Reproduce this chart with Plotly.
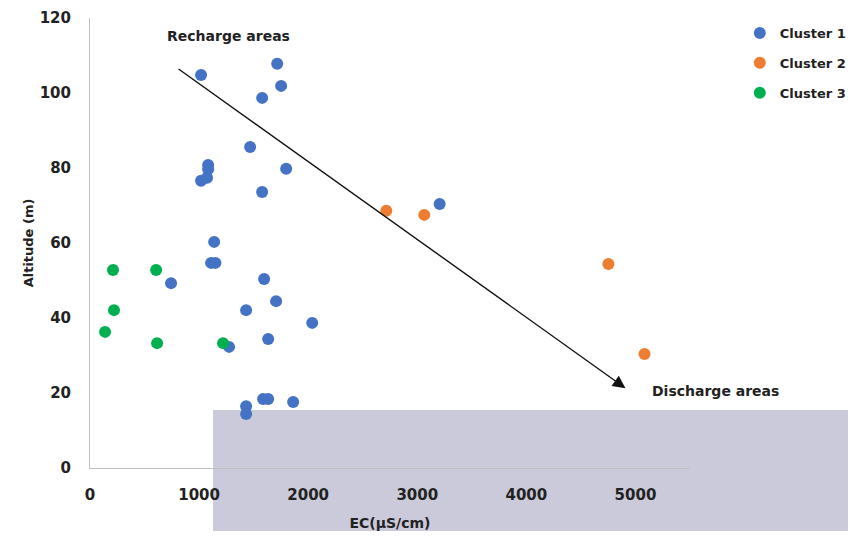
import plotly.graph_objects as go

# Cluster 1
c1_ec = [1018, 1716, 1752, 1578, 1468, 1083, 1083, 1018, 1073, 1798, 1578, 3205, 1138,
         1110, 1150, 1596, 743, 1706, 1431, 2037, 1275, 1633, 1431, 1431, 1587, 1633, 1862]
c1_alt = [104.8, 107.8, 101.9, 98.7, 85.6, 80.8, 79.7, 76.6, 77.4, 79.8, 73.6, 70.4, 60.3,
          54.7, 54.7, 50.4, 49.3, 44.5, 42.1, 38.7, 32.3, 34.4, 16.5, 14.4, 18.4, 18.4, 17.6]
# Cluster 2
c2_ec = [2716, 3064, 4752, 5083]
c2_alt = [68.6, 67.5, 54.4, 30.4]
# Cluster 3
c3_ec = [211, 606, 220, 138, 615, 1220]
c3_alt = [52.8, 52.8, 42.1, 36.3, 33.3, 33.3]

arrow_start = (798, 106.7)
arrow_end = (4908, 21.3)

FONT = "DejaVu Sans"
TXT = "#222222"
fig = go.Figure()
for name, xs, ys, col in [("Cluster 1", c1_ec, c1_alt, "#4472C4"),
                          ("Cluster 2", c2_ec, c2_alt, "#ED7D31"),
                          ("Cluster 3", c3_ec, c3_alt, "#00B050")]:
    fig.add_trace(go.Scatter(x=xs, y=ys, mode="markers", name=name, legendgroup=name,
                             marker=dict(color=col, size=12), cliponaxis=False))

# watermark-like band
fig.add_shape(type="rect", xref="paper", yref="paper", x0=0.205, x1=1.3, y0=-0.2, y1=0.129,
              fillcolor="rgba(196,196,214,0.9)", line_width=0, layer="below")

fig.add_annotation(x=arrow_end[0], y=arrow_end[1], ax=arrow_start[0], ay=arrow_start[1],
                   xref="x", yref="y", axref="x", ayref="y", text="", showarrow=True,
                   arrowhead=2, arrowsize=1.8, arrowwidth=1.4, arrowcolor="#111111")
fig.add_annotation(x=1266, y=115.3, xref="x", yref="y", text="Recharge areas", showarrow=False,
                   font=dict(family=FONT, size=14, color=TXT, weight="bold"))
fig.add_annotation(x=1.042, y=0.171, xref="paper", yref="paper", text="Discharge areas",
                   showarrow=False, xanchor="center", yanchor="middle",
                   font=dict(family=FONT, size=14, color=TXT, weight="bold"))

fig.update_layout(
    width=840, height=523,
    margin=dict(l=82, r=158, t=10, b=63, autoexpand=False),
    paper_bgcolor="white", plot_bgcolor="rgba(0,0,0,0)",
    font=dict(family=FONT, color=TXT),
    legend=dict(x=1.083, y=1.0, xanchor="left", yanchor="top", traceorder="grouped",
                tracegroupgap=10, itemsizing="constant",
                font=dict(family=FONT, size=13, color=TXT, weight="bold"),
                bgcolor="rgba(0,0,0,0)"),
)
fig.update_xaxes(range=[0, 5500], tickvals=[0, 1000, 2000, 3000, 4000, 5000],
                 showgrid=False, zeroline=False, showline=True, linecolor="#BFBFBF",
                 ticks="outside", ticklen=13, tickcolor="rgba(0,0,0,0)", automargin=False,
                 tickfont=dict(family=FONT, size=15, color=TXT, weight="bold"),
                 title=dict(text="EC(µS/cm)", standoff=17,
                            font=dict(family=FONT, size=14, color=TXT, weight="bold")))
fig.update_yaxes(range=[0, 120], tickvals=[0, 20, 40, 60, 80, 100, 120],
                 showgrid=False, zeroline=False, showline=True, linecolor="#BFBFBF",
                 ticks="outside", ticklen=15, tickcolor="rgba(0,0,0,0)", automargin=True,
                 tickfont=dict(family=FONT, size=15, color=TXT, weight="bold"),
                 title=dict(text="Altitude (m)", standoff=3,
                            font=dict(family=FONT, size=13, color=TXT, weight="bold")))

fig.write_html("out.html")
